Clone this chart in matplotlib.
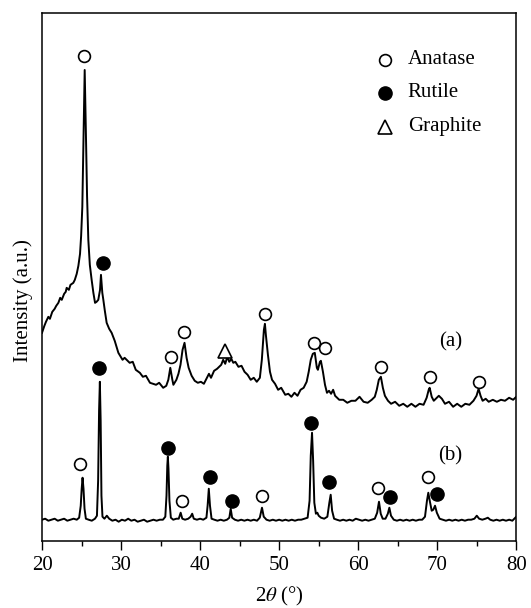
import matplotlib
matplotlib.use("Agg")
import matplotlib.pyplot as plt

plt.rcParams['font.family'] = ['Liberation Serif', 'DejaVu Serif']
plt.rcParams['font.size'] = 15
plt.rcParams['mathtext.fontset'] = 'stix'

# --- pattern (a) ---
two_theta_a = [20.0, 20.3, 20.5, 20.8, 21.0, 21.3, 21.6, 21.8, 22.07, 22.3, 22.5, 22.8, 23.0, 23.12,
               23.4, 23.6, 23.96, 24.15, 24.39, 24.6, 24.81, 24.95, 25.1, 25.2, 25.31, 25.4, 25.48,
               25.57, 25.7, 25.86, 26.05, 26.28, 26.5, 26.71, 26.9, 27.12, 27.34, 27.46, 27.63, 27.76,
               27.95, 28.18, 28.5, 28.81, 29.2, 29.66, 30.19, 30.45, 31.09, 31.48, 31.86, 32.38, 32.76,
               33.15, 33.66, 34.05, 34.43, 34.82, 35.33, 35.72, 35.98, 36.23, 36.49, 36.62, 37.0, 37.26,
               37.52, 37.78, 38.03, 38.29, 38.55, 38.93, 39.32, 39.71, 40.1, 40.48, 40.87, 41.12, 41.38,
               41.77, 42.15, 42.67, 42.92, 43.18, 43.44, 43.69, 43.95, 44.2, 44.46, 44.85, 45.24, 45.62,
               46.01, 46.4, 46.79, 47.17, 47.56, 47.81, 48.07, 48.2, 48.32, 48.58, 48.84, 49.1, 49.48,
               49.87, 50.26, 50.77, 51.16, 51.55, 51.94, 52.32, 52.71, 53.1, 53.48, 53.74, 54.0, 54.26,
               54.51, 54.77, 54.9, 55.16, 55.28, 55.54, 55.8, 56.05, 56.31, 56.57, 56.83, 57.08, 57.6,
               58.11, 58.62, 59.14, 59.65, 60.17, 60.68, 61.2, 61.71, 62.1, 62.35, 62.61, 62.87, 63.12,
               63.38, 63.77, 64.16, 64.67, 65.19, 65.7, 66.21, 66.73, 67.24, 67.76, 68.27, 68.66, 68.92,
               69.04, 69.3, 69.56, 69.82, 70.2, 70.59, 70.98, 71.49, 72.01, 72.52, 73.04, 73.55, 74.07,
               74.58, 74.97, 75.23, 75.48, 75.74, 76.13, 76.51, 77.03, 77.54, 78.06, 78.57, 79.09, 79.6,
               80.0]
intensity_a = [208, 215, 219, 224, 222, 229, 232, 235, 238, 243, 241, 247, 249, 253,
               251, 256, 258, 261, 267, 275, 287, 305, 334, 380, 434, 471, 440,
               401, 345, 301, 276, 261, 248, 238, 239, 241, 251, 266, 248, 241,
               230, 218, 212, 208, 200, 188, 181, 183, 178, 179, 171, 168, 164,
               165, 158, 157, 156, 158, 153, 155, 161, 173, 161, 156, 161, 167,
               176, 191, 198, 183, 173, 165, 160, 158, 159, 157, 163, 167, 163,
               170, 172, 176, 181, 177, 184, 179, 182, 178, 179, 174, 175, 169,
               166, 161, 163, 159, 163, 181, 211, 217, 206, 186, 169, 161, 157,
               151, 153, 146, 147, 144, 148, 145, 151, 153, 159, 169, 181, 187,
               188, 173, 171, 179, 180, 169, 156, 148, 150, 147, 151, 145, 141,
               141, 138, 140, 140, 144, 139, 138, 141, 144, 151, 161, 164, 153,
               145, 140, 137, 139, 135, 137, 134, 137, 134, 137, 136, 143, 151,
               153, 144, 140, 142, 145, 142, 137, 139, 134, 137, 134, 137, 136,
               140, 145, 152, 145, 140, 142, 139, 141, 139, 141, 140, 143, 141,
               144]

# --- pattern (b) ---
two_theta_b = [20.0, 20.4, 20.8, 21.2, 21.6, 22.0, 22.4, 22.8, 23.2, 23.6, 24.0, 24.4, 24.7, 24.9,
               25.02, 25.13, 25.25, 25.38, 25.55, 25.9, 26.3, 26.7, 26.95, 27.1, 27.22, 27.32, 27.42,
               27.52, 27.65, 27.9, 28.2, 28.5, 28.9, 29.3, 29.7, 30.1, 30.5, 30.9, 31.3, 31.7, 32.1,
               32.5, 32.9, 33.3, 33.7, 34.1, 34.5, 34.9, 35.3, 35.6, 35.75, 35.85, 35.92, 36.0, 36.12,
               36.3, 36.6, 37.0, 37.3, 37.54, 37.75, 38.1, 38.5, 38.8, 39.0, 39.2, 39.6, 40.0, 40.4,
               40.8, 40.95, 41.1, 41.25, 41.45, 41.8, 42.2, 42.6, 43.0, 43.4, 43.7, 43.87, 44.05, 44.4,
               44.8, 45.2, 45.6, 46.0, 46.4, 46.8, 47.2, 47.55, 47.83, 48.05, 48.4, 48.8, 49.2, 49.6,
               50.0, 50.4, 50.8, 51.2, 51.6, 52.0, 52.4, 52.8, 53.2, 53.6, 53.85, 54.0, 54.16, 54.3,
               54.45, 54.65, 54.83, 55.0, 55.3, 55.7, 56.1, 56.35, 56.52, 56.7, 56.95, 57.3, 57.7,
               58.1, 58.5, 58.9, 59.3, 59.7, 60.1, 60.5, 60.9, 61.3, 61.7, 62.1, 62.4, 62.63, 62.85,
               63.1, 63.45, 63.75, 63.94, 64.15, 64.5, 64.9, 65.3, 65.7, 66.1, 66.5, 66.9, 67.3, 67.7,
               68.1, 68.45, 68.7, 68.87, 69.05, 69.3, 69.5, 69.72, 69.95, 70.3, 70.7, 71.1, 71.5,
               71.9, 72.3, 72.7, 73.1, 73.5, 73.9, 74.3, 74.7, 75.0, 75.3, 75.7, 76.1, 76.4, 76.7,
               77.1, 77.5, 77.9, 78.3, 78.7, 79.1, 79.5, 80.0]
intensity_b = [21, 22, 20, 21, 22, 20, 21, 22, 20, 21, 22, 21, 23, 35,
               52, 63, 52, 32, 22, 21, 20, 22, 25, 60, 130, 159, 120,
               45, 24, 22, 25, 22, 20, 21, 19, 21, 20, 22, 20, 21, 19,
               20, 21, 19, 20, 21, 20, 21, 21, 24, 45, 75, 84, 72, 40,
               23, 21, 22, 22, 28, 22, 21, 22, 24, 27, 22, 21, 22, 21,
               23, 35, 52, 35, 22, 21, 20, 21, 20, 21, 23, 32, 23, 21,
               20, 21, 20, 21, 20, 21, 20, 23, 33, 24, 21, 20, 21, 20,
               21, 20, 21, 20, 21, 20, 21, 21, 22, 23, 40, 85, 108, 80,
               38, 27, 28, 25, 23, 22, 24, 38, 46, 30, 22, 21, 20,
               21, 20, 21, 20, 22, 21, 20, 21, 20, 21, 22, 28, 39, 27,
               22, 22, 27, 33, 25, 21, 20, 21, 20, 21, 20, 21, 20, 21,
               21, 24, 40, 48, 40, 30, 31, 35, 28, 22, 21, 20, 21,
               20, 21, 20, 21, 20, 21, 21, 22, 25, 22, 21, 22, 23, 21,
               20, 21, 20, 21, 20, 21, 20, 24]

# --- phase markers ---
anatase_a_x = [25.31, 36.26, 38.01, 48.2, 54.4, 55.77, 62.83, 69.12, 75.24]
anatase_a_y = [485, 184, 209, 227, 198, 193, 174, 164, 159]
rutile_a_x = [27.75]
rutile_a_y = [278]
graphite_a_x = [43.2]
graphite_a_y = [190]
anatase_b_x = [24.84, 37.76, 47.86, 62.53, 68.87]
anatase_b_y = [77, 40, 45, 53, 64]
rutile_b_x = [27.27, 35.96, 41.31, 44.09, 54.06, 56.29, 64.03, 69.98]
rutile_b_y = [173, 93, 64, 40, 118, 59, 44, 47]

legend_labels = ['Anatase', 'Rutile', 'Graphite']

fig = plt.figure(figsize=(5.31, 6.08), dpi=100)
ax = fig.add_axes([0.0791, 0.1107, 0.8932, 0.8674])

ax.plot(two_theta_a, intensity_a, color='black', lw=1.4)
ax.plot(two_theta_b, intensity_b, color='black', lw=1.4)

open_kw = dict(ls='none', marker='o', ms=8.5, mfc='white', mec='black', mew=1.2)
fill_kw = dict(ls='none', marker='o', ms=9.5, mfc='black', mec='black')
tri_kw = dict(ls='none', marker='^', ms=10, mfc='white', mec='black', mew=1.2)

ax.plot(anatase_a_x, anatase_a_y, **open_kw)
ax.plot(rutile_a_x, rutile_a_y, **fill_kw)
ax.plot(graphite_a_x, graphite_a_y, **tri_kw)
ax.plot(anatase_b_x, anatase_b_y, **open_kw)
ax.plot(rutile_b_x, rutile_b_y, **fill_kw)

ax.text(71.7, 199, '(a)', ha='center', va='center')
ax.text(71.7, 85, '(b)', ha='center', va='center')

# legend drawn by hand
leg_y = [0.912, 0.849, 0.785]
for yy, kw, lab in zip(leg_y, [open_kw, fill_kw, tri_kw], legend_labels):
    ax.plot([0.723], [yy], transform=ax.transAxes, **kw)
    ax.text(0.771, yy, lab, transform=ax.transAxes, ha='left', va='center')

ax.set_xlim(20, 80)
ax.set_ylim(0, 527.7)
ax.set_xticks([20, 30, 40, 50, 60, 70, 80])
ax.set_xticks([25, 35, 45, 55, 65, 75], minor=True)
ax.set_yticks([])
ax.tick_params(axis='x', which='major', direction='out', length=6.7, width=1, pad=4.3)
ax.tick_params(axis='x', which='minor', direction='out', length=3.6, width=1)
for sp in ax.spines.values():
    sp.set_linewidth(1.1)

ax.set_xlabel(r'2$\theta$ (°)', va='center')
ax.xaxis.set_label_coords(0.5, -0.105)
ax.set_ylabel('Intensity (a.u.)', va='center')
ax.yaxis.set_label_coords(-0.0407, 0.4545)

fig.savefig('out.png', dpi=100)
